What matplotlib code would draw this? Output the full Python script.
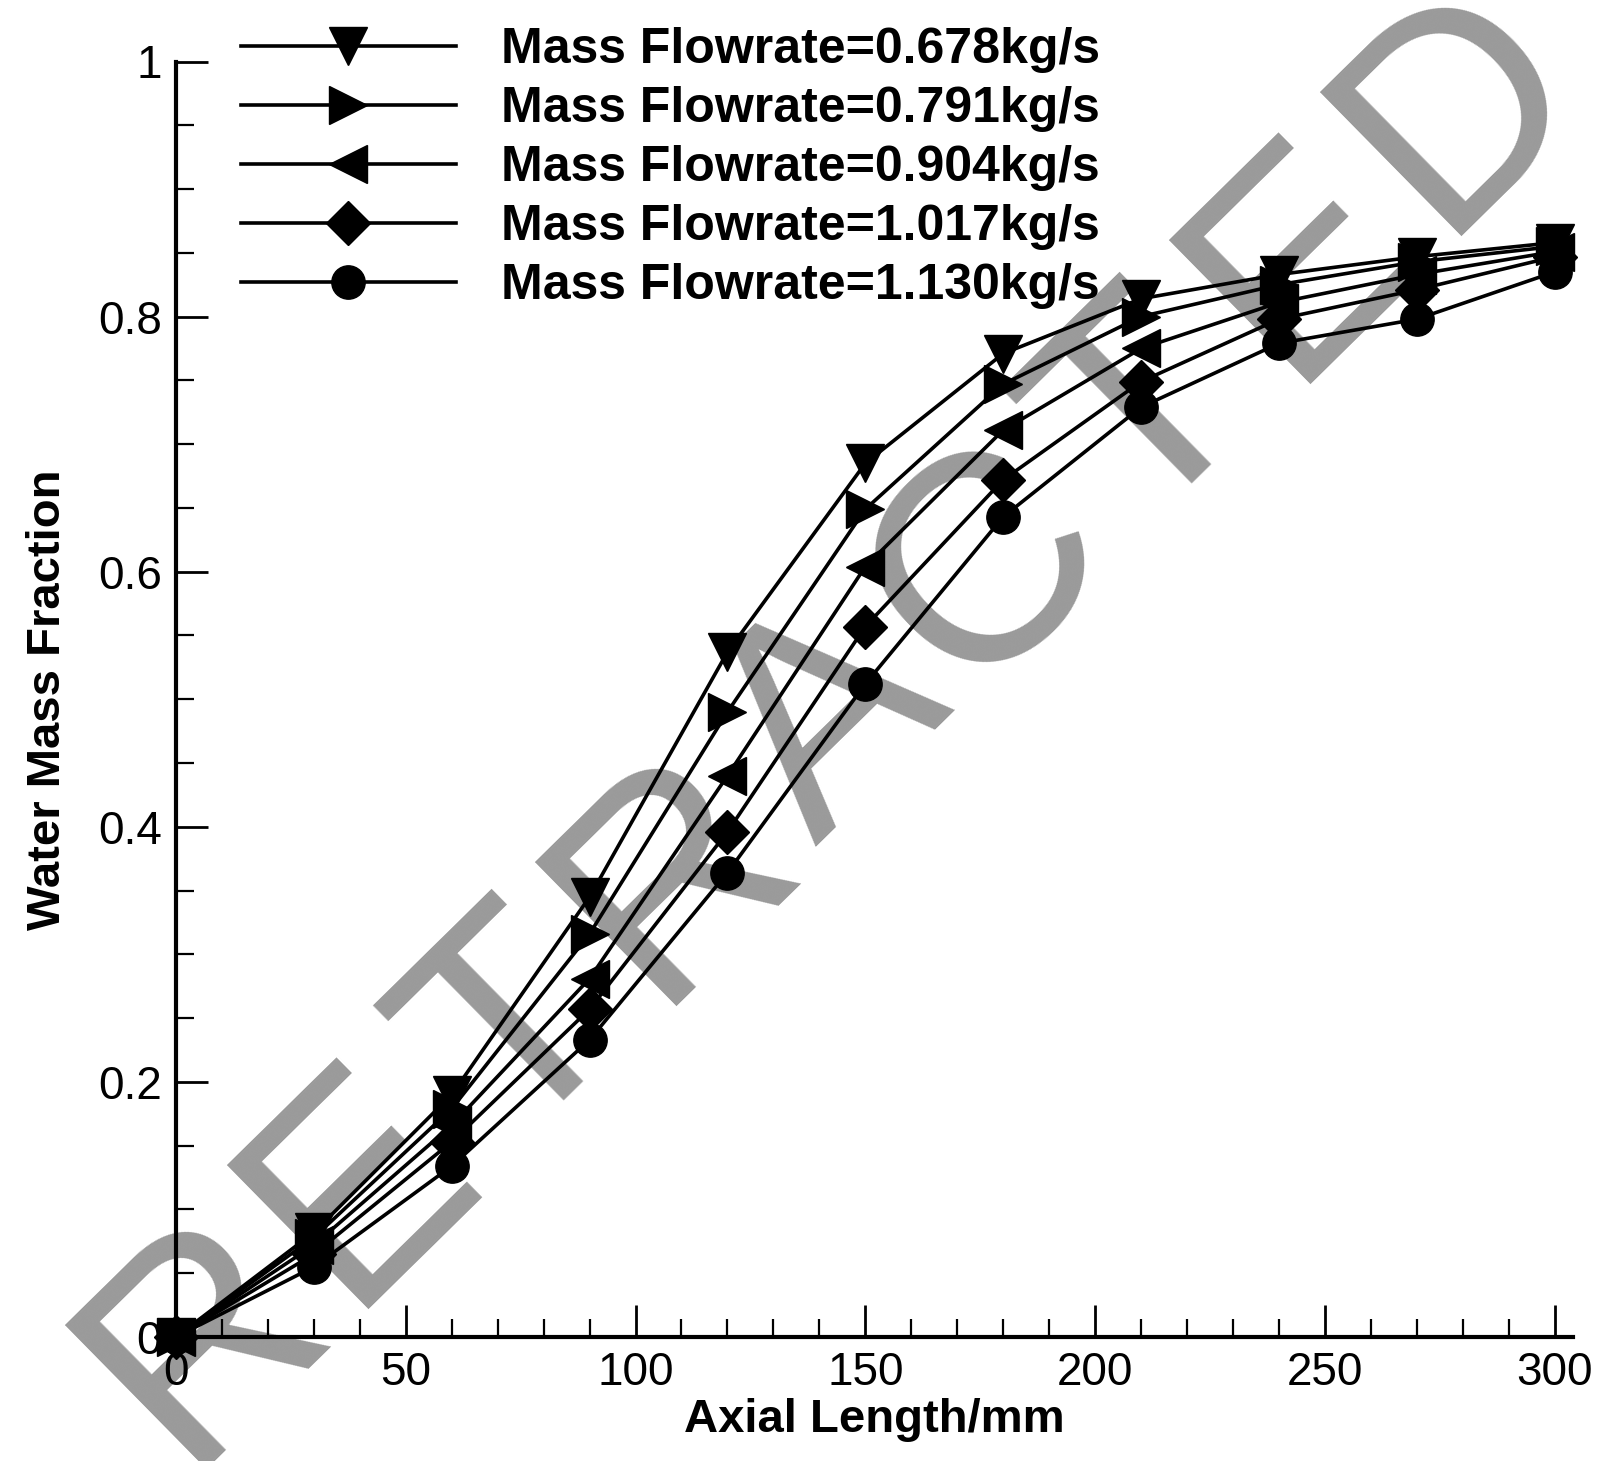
import matplotlib
matplotlib.use("Agg")
import matplotlib.pyplot as plt
from matplotlib.ticker import MultipleLocator

plt.rcParams['font.family'] = ['Liberation Sans', 'DejaVu Sans']

# axial positions (mm)
axial = [0, 30, 60, 90, 120, 150, 180, 210, 240, 270, 300]

# water mass fraction for each mass flowrate
frac_0678 = [0.0, 0.082, 0.190, 0.345, 0.537, 0.685, 0.771, 0.814, 0.833, 0.847, 0.858]
frac_0791 = [0.0, 0.078, 0.179, 0.316, 0.490, 0.649, 0.747, 0.800, 0.825, 0.843, 0.855]
frac_0904 = [0.0, 0.072, 0.166, 0.281, 0.440, 0.604, 0.711, 0.775, 0.811, 0.833, 0.851]
frac_1017 = [0.0, 0.065, 0.153, 0.257, 0.396, 0.557, 0.672, 0.749, 0.798, 0.821, 0.847]
frac_1130 = [0.0, 0.055, 0.134, 0.233, 0.364, 0.512, 0.643, 0.729, 0.779, 0.798, 0.835]

labels = ["Mass Flowrate=0.678kg/s", "Mass Flowrate=0.791kg/s", "Mass Flowrate=0.904kg/s",
          "Mass Flowrate=1.017kg/s", "Mass Flowrate=1.130kg/s"]
series = [frac_0678, frac_0791, frac_0904, frac_1017, frac_1130]
markers = ["v", ">", "<", "D", "o"]
msizes = [28, 27, 27, 22, 24]

watermark = "RETRACTED"

fig = plt.figure(figsize=(16.06, 14.61), dpi=100)
ax = fig.add_axes([176 / 1606, 124 / 1461, (1573 - 176) / 1606, (1337 - 61.5) / 1461])
ax.set_facecolor('none')
ax.set_zorder(1)

for ys, lab, m, ms in zip(series, labels, markers, msizes):
    ax.plot(axial, ys, color='black', lw=2.6, marker=m, markersize=ms,
            label=lab, clip_on=False)

ax.set_xlim(0, 304)
ax.set_ylim(0, 1)
ax.xaxis.set_major_locator(MultipleLocator(50))
ax.xaxis.set_minor_locator(MultipleLocator(10))
ax.yaxis.set_minor_locator(MultipleLocator(0.05))
ax.set_yticks([0, 0.2, 0.4, 0.6, 0.8, 1.0])
ax.set_yticklabels(["0", "0.2", "0.4", "0.6", "0.8", "1"])

for s in ['top', 'right']:
    ax.spines[s].set_visible(False)
for s in ['left', 'bottom']:
    ax.spines[s].set_linewidth(3)

ax.tick_params(which='major', direction='in', length=23, width=2, labelsize=33, pad=10)
ax.tick_params(which='minor', direction='in', length=13, width=1.6)

ax.set_xlabel("Axial Length/mm", fontsize=34, fontweight='bold', labelpad=2)
ax.set_ylabel("Water Mass Fraction", fontsize=34, fontweight='bold', labelpad=20)

leg = ax.legend(loc='upper left', bbox_to_anchor=(241 / 1606, 1 - 27 / 1461),
                bbox_transform=fig.transFigure, frameon=False,
                prop={'weight': 'bold', 'size': 36}, handlelength=4.3,
                handletextpad=0.9, labelspacing=0.26, borderpad=0, borderaxespad=0)

# watermark, letters spread along a diagonal
x0, y0 = 205, 1340
dx, dy = 156.9, -154.1
for i, ch in enumerate(watermark):
    fig.text((x0 + i * dx) / 1606, 1 - (y0 + i * dy) / 1461, ch, fontsize=212,
             color='#9a9a9a', rotation=44.5, ha='center', va='center',
             rotation_mode='anchor', zorder=-1)

fig.savefig("out.png", dpi=100)
